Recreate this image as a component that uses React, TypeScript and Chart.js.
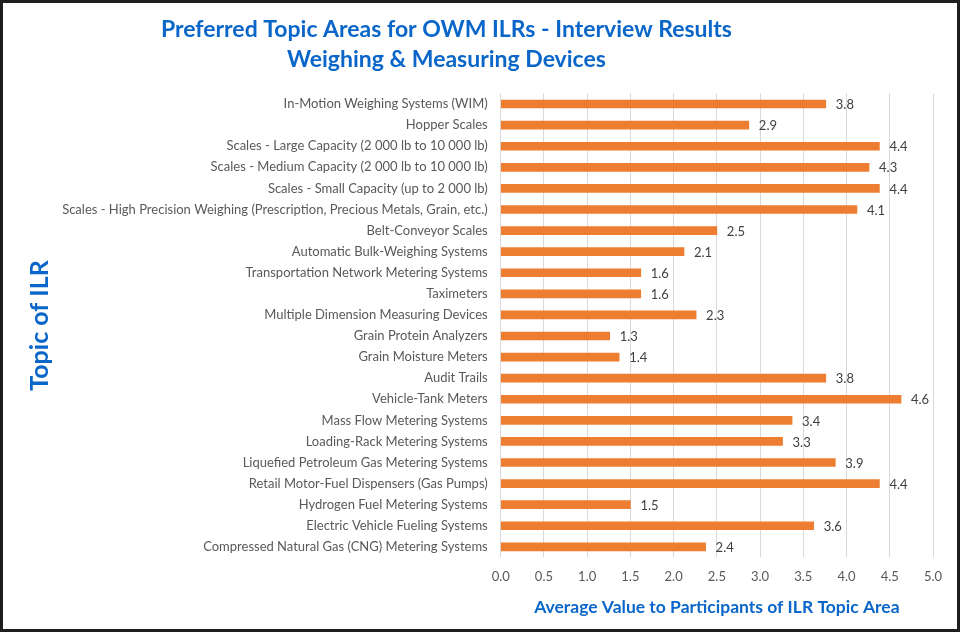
import React, { useEffect, useRef } from "react";
import { Chart, registerables } from "chart.js";

Chart.register(...registerables);

const categories: string[] = [
  "In-Motion Weighing Systems (WIM)",
  "Hopper Scales",
  "Scales - Large Capacity (2 000 lb to 10 000 lb)",
  "Scales - Medium Capacity (2 000 lb to 10 000 lb)",
  "Scales - Small Capacity (up to 2 000 lb)",
  "Scales - High Precision Weighing (Prescription, Precious Metals, Grain, etc.)",
  "Belt-Conveyor Scales",
  "Automatic Bulk-Weighing Systems",
  "Transportation Network Metering Systems",
  "Taximeters",
  "Multiple Dimension Measuring Devices",
  "Grain Protein Analyzers",
  "Grain Moisture Meters",
  "Audit Trails",
  "Vehicle-Tank Meters",
  "Mass Flow Metering Systems",
  "Loading-Rack Metering Systems",
  "Liquefied Petroleum Gas Metering Systems",
  "Retail Motor-Fuel Dispensers (Gas Pumps)",
  "Hydrogen Fuel Metering Systems",
  "Electric Vehicle Fueling Systems",
  "Compressed Natural Gas (CNG) Metering Systems",
];

const values: number[] = [
  3.76, 2.87, 4.38, 4.26, 4.38, 4.12, 2.5, 2.12, 1.62, 1.62, 2.26, 1.26, 1.37,
  3.76, 4.63, 3.37, 3.26, 3.87, 4.38, 1.5, 3.62, 2.37,
];

const xMin = 0;
const xMax = 5;
const xStep = 0.5;

const titleLines: string[] = [
  "Preferred Topic Areas for OWM ILRs - Interview Results",
  "Weighing & Measuring Devices",
];
const yAxisTitle = "Topic of ILR";
const xAxisTitle = "Average Value to Participants of ILR Topic Area";

const BLUE = "#0A66C8";
const BAR = "#ED7D31";
const TEXT = "#595959";
const FONT = "Lato, 'Open Sans', sans-serif";

const valueLabelPlugin = {
  id: "valueLabels",
  afterDatasetsDraw(chart: any) {
    const ctx = chart.ctx;
    const meta = chart.getDatasetMeta(0);
    ctx.save();
    ctx.font = `13px ${FONT}`;
    ctx.fillStyle = "#404040";
    ctx.textBaseline = "middle";
    ctx.textAlign = "left";
    meta.data.forEach((bar: any, i: number) => {
      ctx.fillText(values[i].toFixed(1), bar.x + 10, bar.y + 1);
    });
    ctx.restore();
  },
};

const titlePlugin = {
  id: "twoLineTitle",
  afterDraw(chart: any) {
    const ctx = chart.ctx;
    ctx.save();
    ctx.font = `bold 23px ${FONT}`;
    ctx.fillStyle = BLUE;
    ctx.textAlign = "center";
    ctx.textBaseline = "middle";
    const cx = chart.width * 0.4648;
    titleLines.forEach((line, i) => {
      ctx.fillText(line, cx, 27 + i * 30);
    });
    ctx.restore();
  },
};

export default function App() {
  const canvasRef = useRef<HTMLCanvasElement | null>(null);

  useEffect(() => {
    document.body.style.margin = "0";
    const canvas = canvasRef.current;
    if (!canvas) return;
    const chart = new Chart(canvas, {
      type: "bar",
      data: {
        labels: categories,
        datasets: [
          {
            data: values,
            backgroundColor: BAR,
            borderWidth: 0,
            barThickness: 8,
          },
        ],
      },
      options: {
        indexAxis: "y",
        responsive: false,
        animation: false,
        devicePixelRatio: 1,
        layout: { padding: { top: 90.5, right: 24, bottom: 0, left: 18 } },
        plugins: {
          legend: { display: false },
          title: { display: false },
          tooltip: { enabled: false },
        },
        scales: {
          x: {
            min: xMin,
            max: xMax,
            ticks: {
              stepSize: xStep,
              color: TEXT,
              font: { family: FONT, size: 13 },
              padding: 12,
              callback: (v: any) => Number(v).toFixed(1),
            },
            grid: { color: "#D9D9D9", drawTicks: false, lineWidth: 1 },
            border: { display: false },
            title: {
              display: true,
              text: xAxisTitle,
              color: BLUE,
              font: { family: FONT, size: 17.5, weight: "bold" },
              padding: { top: 0, bottom: 11 },
            },
          },
          y: {
            ticks: {
              color: TEXT,
              font: { family: FONT, size: 13 },
              padding: 13,
              autoSkip: false,
            },
            grid: { display: false, drawTicks: false },
            border: { display: false },
            title: {
              display: true,
              text: yAxisTitle,
              color: BLUE,
              font: { family: FONT, size: 25, weight: "bold" },
              padding: { top: 4, bottom: 4 },
            },
            afterFit: (scale: any) => {
              scale.width = 497.7 - 18;
            },
          },
        },
      },
      plugins: [valueLabelPlugin, titlePlugin],
    });
    return () => chart.destroy();
  }, []);

  return (
    <div
      style={{
        position: "absolute",
        left: 0,
        top: 0,
        width: 960,
        height: 632,
        border: "3px solid #1E1E1E",
        boxSizing: "border-box",
        background: "#FFFFFF",
      }}
    >
      <canvas ref={canvasRef} width={954} height={626} style={{ display: "block" }} />
    </div>
  );
}
